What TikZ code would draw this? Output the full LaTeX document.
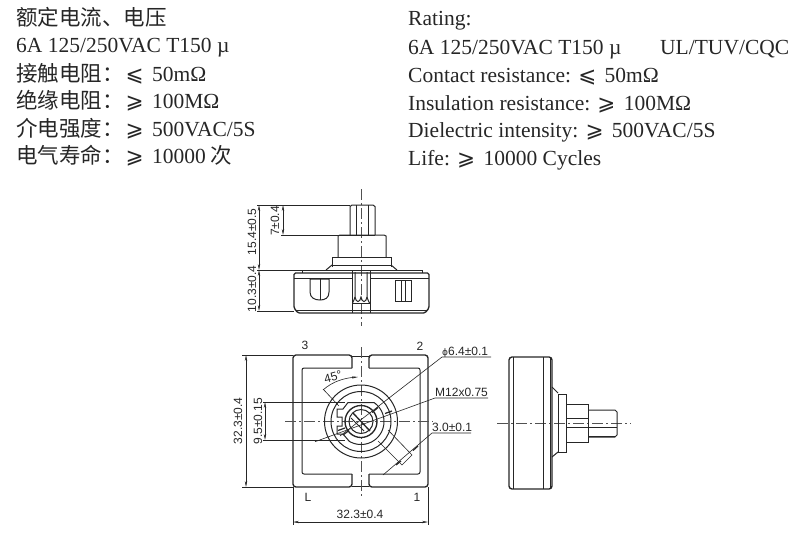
\documentclass[tikz,border=0pt]{standalone}
\usepackage{fontspec}
\usetikzlibrary{arrows.meta}
\setmainfont{Liberation Serif}
\setsansfont{Liberation Sans}
\newfontfamily\cjk{Noto Sans CJK SC}
\newfontfamily\sym{DejaVu Sans}
\newcommand{\lea}{{\sym ⩽}\kern3pt}
\newcommand{\gea}{{\sym ⩾}\kern3pt}
\newcommand{\ltn}{\fontsize{21.5}{24}\selectfont\rmfamily}
\definecolor{ink}{HTML}{262626}
\tikzset{
  x=1pt,y=-1pt,
  spec/.style={anchor=base west,inner sep=0pt,text=ink,font=\fontsize{21.5}{24}\selectfont},
  cn/.style={spec,font=\fontsize{21.5}{24}\selectfont\cjk},
  dimlabel/.style={inner sep=0pt,text=ink,font=\sffamily\fontsize{12}{13}\selectfont},
  thick line/.style={draw=ink,line width=1.35pt},
  mid line/.style={draw=ink,line width=1pt},
  thin line/.style={draw=ink,line width=0.6pt},
  centre line/.style={draw=ink!80,line width=0.5pt,dash pattern=on 11pt off 3pt on 2pt off 3pt},
  dim line/.style={draw=ink,line width=0.6pt,{Stealth[length=6pt,width=2.4pt]}-{Stealth[length=6pt,width=2.4pt]}}
}
\begin{document}
\begin{tikzpicture}
\useasboundingbox (0,0) rectangle (800,539);
% ---- Chinese spec text
\node[cn] (c1) at (16,25) {额定电流、电压};
\node[spec] (c2) at (16,52) {6A 125/250VAC T150 µ};
\node[cn] (c3) at (16,81) {接触电阻：{\ltn\kern2pt\lea{} 50mΩ}};
\node[cn] (c4) at (16,108) {绝缘电阻：{\ltn\kern2pt\gea{} 100MΩ}};
\node[cn] (c5) at (16,136) {介电强度：{\ltn\kern2pt\gea{} 500VAC/5S}};
\node[cn] (c6) at (16,163) {电气寿命：{\ltn\kern2pt\gea{} 10000} 次};
% ---- English spec text
\node[spec] (e1) at (408,25) {Rating:};
\node[spec] (e2) at (408,54) {6A 125/250VAC T150 µ};
\node[spec] (e2b) at (660,54) {UL/TUV/CQC};
\node[spec] (e3) at (408,82) {Contact resistance: \lea{} 50mΩ};
\node[spec] (e4) at (408,110) {Insulation resistance: \gea{} 100MΩ};
\node[spec] (e5) at (408,137) {Dielectric intensity: \gea{} 500VAC/5S};
\node[spec] (e6) at (408,165) {Life: \gea{} 10000 Cycles};

% ---- top view
\draw[centre line] (361.5,189) -- (361.5,326);
\draw[mid line] (350,235) -- (350,206.5) -- (352,205) -- (373,205) -- (375,206.5) -- (375,235);
\draw[thin line] (356,205) -- (356,235) (368,205) -- (368,235);
\draw[mid line] (350,235) -- (375,235);
\draw[mid line] (338,257) -- (338,236) -- (340,235) -- (384,235) -- (386,236) -- (386,257);
\draw[mid line] (332,267) -- (332,257) -- (391,257) -- (391,267);
\draw[thin line] (332,265) -- (391,265);
\draw[mid line] (332,265) -- (326,270) (391,265) -- (397,270);
\draw[mid line] (302,273) -- (302,270) -- (422,270) -- (422,273);
% body
\draw[thick line,rounded corners=1.5pt] (294,273) -- (429,273) -- (429,308) -- (425,313) -- (298,313) -- (294,308) -- cycle;
\draw[mid line] (294,278) -- (352,278) (370,278) -- (429,278);
\draw[thin line] (296,310) -- (427,310);
\draw[mid line] (352,270) -- (352,313) (370,270) -- (370,313);
\draw[mid line] (355,272) -- (355,297) .. controls (355,299) and (353,301) .. (352.5,303);
\draw[mid line] (367,272) -- (367,297) .. controls (367,299) and (369,301) .. (369.5,303);
\draw[mid line] (355,297) .. controls (356,303) and (360,303) .. (361,297) .. controls (362,303) and (366,303) .. (367,297);
\draw[thin line] (352,303) -- (370,303);
% slots
\draw[mid line] (310,279) -- (310,292) .. controls (310,298) and (315,300) .. (320,300) .. controls (325,300) and (329,298) .. (329,292) -- (329,279) -- cycle;
\draw[thin line] (320,279) -- (320,300);
\draw[mid line] (395,280) rectangle (411,301);
\draw[mid line] (401,280) -- (401,301) (405,280) -- (405,301);
% dims top view
\coordinate (t15a) at (259,205); \coordinate (t15b) at (259,270);
\coordinate (t7a) at (283,205);  \coordinate (t7b) at (283,235);
\coordinate (t10b) at (259,311);
\draw[thin line] (257,205) -- (350,205) (281,235) -- (350,235) (257,270) -- (326,270) (257,311) -- (294,311);
\draw[dim line] (t15a) -- (t15b);
\draw[dim line] (t7a) -- (t7b);
\draw[dim line] (t15b) -- (t10b);
\node[dimlabel,rotate=90] (d154) at (252,232) {15.4±0.5};
\node[dimlabel,rotate=90] (d7) at (275,221) {7±0.4};
\node[dimlabel,rotate=90] (d103) at (252,289) {10.3±0.4};

% ---- front view
\draw[thick line,rounded corners=3pt] (352,368) -- (352,355) -- (293,355) -- (293,487) -- (352,487) -- (352,474);
\draw[thick line,rounded corners=3pt] (369,368) -- (369,355) -- (428,355) -- (428,487) -- (369,487) -- (369,474);
\draw[mid line,rounded corners=2pt] (352,368) -- (302,368) -- (302,474) -- (352,474);
\draw[mid line,rounded corners=2pt] (369,368) -- (420,368) -- (420,474) -- (369,474);
\draw[thin line] (352,356) -- (369,356) (352,486) -- (369,486);
\draw[centre line] (361,347) -- (361,496);
\draw[centre line] (285,421.5) -- (433,421.5);
\coordinate (cc) at (361,421.5);
\draw[mid line] (cc) circle[radius=36.5];
\draw[mid line] (cc) circle[radius=30];
% keyed ring
\draw[mid line,smooth] plot[domain=-56:122,samples=40] ({361+23*cos(\x)},{421.5+23*sin(\x)});
\draw[mid line] (374,402.5) -- (348,402.5) -- (343,409) -- (337,409) -- (337,417) -- (342,417) -- (342,426) -- (337,426) -- (337,434) -- (343,434) -- (349,441);
\draw[thick line] (cc) circle[radius=16];
\draw[mid line] (cc) circle[radius=12];
\draw[thick line] (353,413) -- (370,431);
\draw[mid line] (351,418) -- (364,431);
% 45 degree and strip
\draw[thin line] (323,389) -- (339,406);
\draw[thin line,-{Stealth[length=6pt,width=2.2pt]}] (323,390) .. controls (333,381) and (345,378) .. (358,377);
\node[dimlabel,rotate=15] (d45) at (333,377) {45°};
\draw[thin line] (388,430) -- (412,455) -- (402,465) -- (378,441);
% dims
\coordinate (f32a) at (246,355); \coordinate (f32b) at (246,487);
\coordinate (f95a) at (265,402); \coordinate (f95b) at (265,440);
\coordinate (h32a) at (293,522); \coordinate (h32b) at (428,522);
\draw[thin line] (242,355) -- (293,355) (242,487) -- (293,487);
\draw[thin line] (263,402) -- (345,402) (263,440) -- (345,440);
\draw[thin line] (293,487) -- (293,525) (428,487) -- (428,525);
\draw[dim line] (f32a) -- (f32b);
\draw[dim line] (f95a) -- (f95b);
\draw[dim line] (h32a) -- (h32b);
\node[dimlabel,rotate=90] (d323v) at (238,421) {32.3±0.4};
\node[dimlabel,rotate=90] (d95) at (258,421) {9.5±0.15};
\node[dimlabel] (d323h) at (360,514) {32.3±0.4};
\node[dimlabel] (n3) at (305,345) {3};
\node[dimlabel] (n2) at (420,346) {2};
\node[dimlabel] (nL) at (308,497) {L};
\node[dimlabel] (n1) at (417,497) {1};
% leaders
\node[dimlabel,anchor=base west] (phi) at (442,355) {{\fontsize{9}{10}\selectfont\sym ϕ}6.4±0.1};
\node[dimlabel,anchor=base west] (m12) at (435,396) {M12x0.75};
\node[dimlabel,anchor=base west] (t30) at (432,431) {3.0±0.1};
\draw[thin line] (491,357) -- (442,357) -- (340,436);
\draw[thin line] (488,398) -- (435,398) -- (315,441.7);
\draw[thin line] (471,433) -- (432,433) -- (383,475);
\draw[draw=ink,line width=1.2pt] (378,407.5) -- (372,412.5) (349,430.5) -- (343,435);
\draw[draw=ink,line width=1.2pt] (392,411) -- (385,413.5) (345,428) -- (338,430.5);
\draw[draw=ink,line width=1.2pt] (418,446) -- (413,450.5) (401,461) -- (396,465);

% ---- side view
\draw[centre line] (497,423) -- (631,423);
\draw[thick line,rounded corners=3pt] (509,357) rectangle (552,489);
\draw[thin line] (513,357) -- (513,489) (543,357) -- (543,489) (550,357) -- (550,489);
\draw[mid line] (552,387) -- (558,393) (552,457) -- (558,452);
\draw[mid line] (558,394) rectangle (566,452);
\draw[mid line] (566,404) rectangle (588,442);
\draw[mid line] (588,410) -- (615,410) -- (617,412) -- (617,435) -- (615,437) -- (588,437);
\draw[thick line] (588,436.5) -- (616,436.5);
\draw[thin line] (566,427) -- (617,427) (566,418) -- (588,418);
\end{tikzpicture}
\end{document}
